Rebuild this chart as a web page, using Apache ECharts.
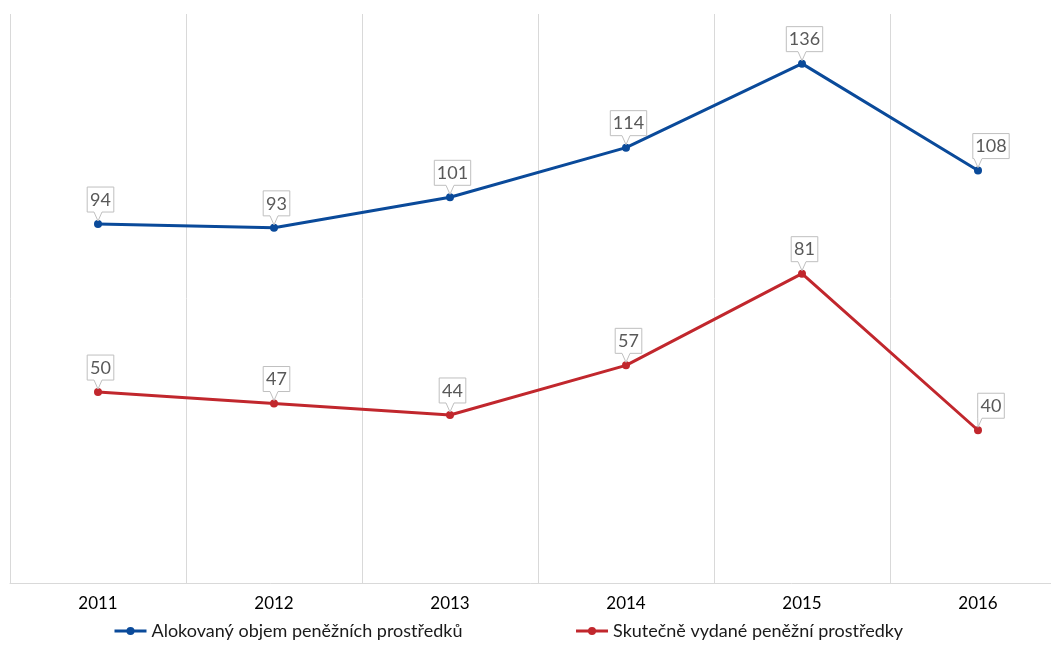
<!DOCTYPE html>
<html><head><meta charset="utf-8">
<script src="https://cdn.jsdelivr.net/npm/echarts@6/dist/echarts.min.js"></script>
<style>html,body{margin:0;padding:0;background:#fff}#c{width:1051px;height:646px}</style>
</head><body><div id="c"></div>
<script>
const years = ['2011','2012','2013','2014','2015','2016'];
const allocated = [94, 93, 101, 114, 136, 108];
const spent = [50, 47, 44, 57, 81, 40];
const seriesNames = ['Alokovaný objem peněžních prostředků', 'Skutečně vydané peněžní prostředky'];
const colors = ['#0a4a9a', '#c1272d'];
const FONT = 'Lato';

function callout(params, api) {
  const idx = params.dataIndex;
  const v = api.value(1);
  const p = api.coord([api.value(0), v]);
  const txt = String(v);
  const w = txt.length * 9.8 + 7;
  const h = 25;
  const last = idx === years.length - 1;
  const cx = last ? p[0] + 13 : p[0] + 2.5;
  const L = cx - w / 2, R = cx + w / 2;
  const B = p[1] - 12, T = B - h;
  const t1 = Math.max(L, p[0] - 4), t2 = p[0] + 4;
  const pts = [[L, T], [R, T], [R, B], [t2, B], [p[0], p[1] - 3], [t1, B], [L, B]];
  return {
    type: 'group',
    children: [
      { type: 'polygon', shape: { points: pts }, style: { fill: '#fff', stroke: '#bfbfbf', lineWidth: 1 } },
      { type: 'text', style: { text: txt, x: cx, y: (T + B) / 2 + 0.5, align: 'center', verticalAlign: 'middle',
        font: '18px ' + FONT, fill: '#595959' } }
    ]
  };
}

const chart = echarts.init(document.getElementById('c'));
chart.setOption({
  animation: false,
  textStyle: { fontFamily: FONT },
  grid: { left: 10, top: 14, right: -15, bottom: 63, containLabel: false, outerBoundsMode: 'none' },
  xAxis: {
    type: 'category', data: years, boundaryGap: true,
    axisLine: { lineStyle: { color: '#d9d9d9', width: 1 } },
    axisTick: { show: false },
    axisLabel: { color: '#000', fontSize: 17, margin: 12, fontFamily: FONT },
    splitLine: { show: true, lineStyle: { color: '#d9d9d9', width: 1 } }
  },
  yAxis: { type: 'value', min: 0, max: 149, show: false, splitLine: { show: false } },
  legend: {
    data: seriesNames, left: 108, bottom: 1, itemWidth: 32, itemHeight: 10, itemGap: 112,
    lineStyle: { width: 3 },
    textStyle: { color: '#1a1a1a', fontSize: 18, fontFamily: FONT }
  },
  series: [
    { name: seriesNames[0], type: 'line', data: allocated, color: colors[0], symbol: 'circle', symbolSize: 8,
      lineStyle: { width: 3 }, z: 3 },
    { name: seriesNames[1], type: 'line', data: spent, color: colors[1], symbol: 'circle', symbolSize: 8,
      lineStyle: { width: 3 }, z: 3 },
    { type: 'custom', coordinateSystem: 'cartesian2d', renderItem: callout, z: 5,
      data: years.map((y, i) => [y, allocated[i]]), encode: { x: 0, y: 1 }, silent: true },
    { type: 'custom', coordinateSystem: 'cartesian2d', renderItem: callout, z: 5,
      data: years.map((y, i) => [y, spent[i]]), encode: { x: 0, y: 1 }, silent: true }
  ]
});
</script></body></html>
